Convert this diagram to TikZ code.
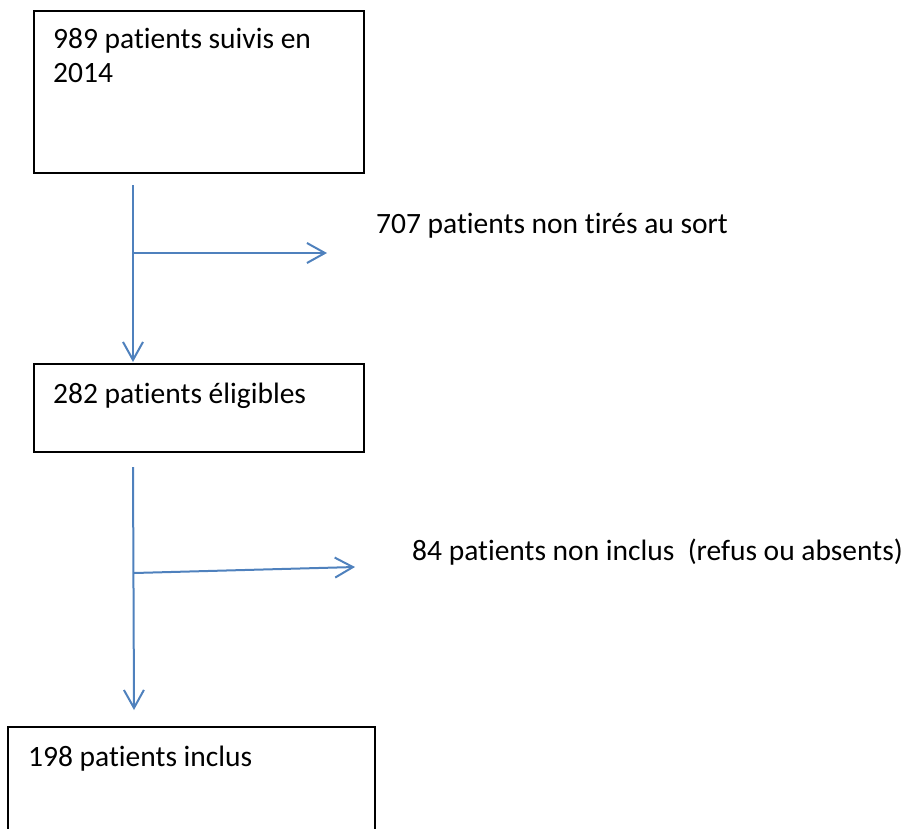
\documentclass[tikz,border=0pt]{standalone}
\usepackage{fontspec}
\setmainfont{Carlito}[Ligatures=NoCommon]
\usetikzlibrary{arrows.meta}
\definecolor{flowblue}{RGB}{79,129,189}
\begin{document}
\begin{tikzpicture}[x=1pt,y=-1pt,
  boxline/.style={draw=black,line width=2pt},
  lbl/.style={anchor=base west,inner sep=0pt,font=\fontsize{29.5}{34}\selectfont},
  flow/.style={draw=flowblue,line width=2pt,-{Straight Barb[length=18pt,width=20pt,line width=2pt]}},
  branch/.style={draw=flowblue,line width=2pt}]
\useasboundingbox (0,0) rectangle (907,828);
% boxes
\node[boxline,anchor=north west,minimum width=330pt,minimum height=162pt,inner sep=0pt] (b1) at (33,10) {};
\node[boxline,anchor=north west,minimum width=330pt,minimum height=88pt,inner sep=0pt] (b2) at (33,363) {};
\coordinate (b3sw) at (8,830);
\coordinate (b3nw) at (8,727);
\coordinate (b3ne) at (375,727);
\coordinate (b3se) at (375,830);
\draw[line width=2pt] (b3sw) -- (b3nw) -- (b3ne) -- (b3se);
% texts
\node[lbl] (t1a) at (53,48) {989 patients suivis en};
\node[lbl] (t1b) at (53,82) {2014};
\node[lbl] (t2) at (53,403) {282 patients éligibles};
\node[lbl] (t3) at (28,766) {198 patients inclus};
\node[lbl] (e1) at (376,233) {707 patients non tirés au sort};
\node[lbl] (e2) at (412,560) {84 patients non inclus\ \ (refus ou absents)};
% connectors
\coordinate (s1) at (133,185);
\coordinate (j1) at (133,253);
\coordinate (x1) at (327,253);
\coordinate (d1) at (133,362);
\coordinate (s2) at (133,467);
\coordinate (j2) at (134,573);
\coordinate (x2) at (355,567);
\coordinate (d2) at (134,710);
\draw[flow] (s1) -- (d1);
\draw[flow] (j1) -- (x1);
\draw[flow] (s2) -- (d2);
\draw[flow] (j2) -- (x2);
\end{tikzpicture}
\end{document}
